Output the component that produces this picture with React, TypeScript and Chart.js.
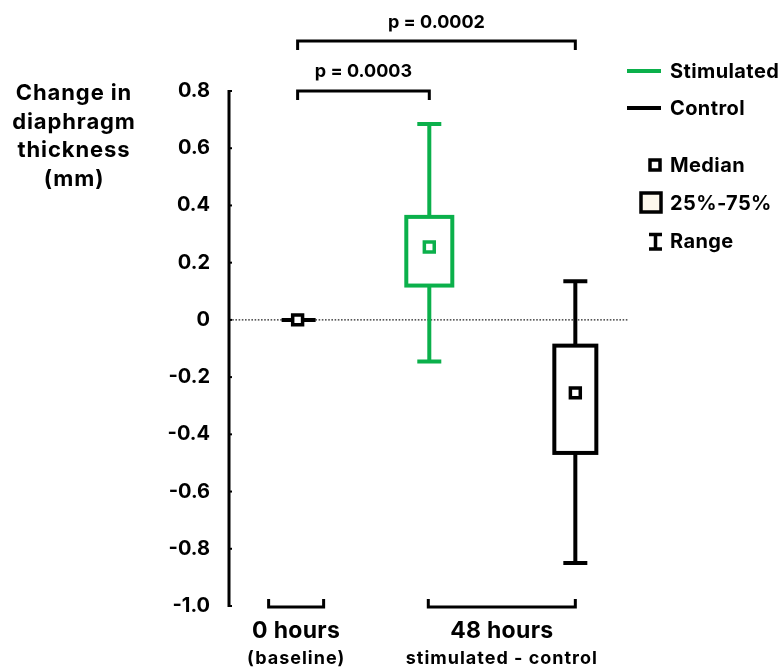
import React, { useEffect, useRef } from "react";
import { Chart, registerables } from "chart.js";

Chart.register(...registerables);

// ---- data ----
const GROUPS = ["0 hours (baseline)", "Stimulated", "Control"];
const RANGE_MIN = [0, -0.145, -0.85];
const Q1 = [0, 0.12, -0.465];
const MEDIAN = [0, 0.255, -0.255];
const Q3 = [0, 0.36, -0.09];
const RANGE_MAX = [0, 0.685, 0.135];
const Y_TICK_VALUES = [0.8, 0.6, 0.4, 0.2, 0, -0.2, -0.4, -0.6, -0.8, -1.0];
const Y_TICK_LABELS = ["0.8", "0.6", "0.4", "0.2", "0", "-0.2", "-0.4", "-0.6", "-0.8", "-1.0"];
const P_LABELS = ["p = 0.0003", "p = 0.0002"];
const X_MAIN_LABELS = ["0 hours", "48 hours"];
const X_SUB_LABELS = ["(baseline)", "stimulated - control"];
const LEGEND_SERIES = ["Stimulated", "Control"];
const LEGEND_MARKS = ["Median", "25%-75%", "Range"];
const Y_TITLE = ["Change in", "diaphragm", "thickness", "(mm)"];

// ---- layout / style ----
const X_POS = [0.172, 0.502, 0.868];
const GREEN = "#0BB04B";
const BLACK = "#000000";
const COLORS = [BLACK, GREEN, BLACK];
const FONT = "Inter, 'Liberation Sans', Arial, sans-serif";

function setSpacing(ctx: any, v: string) {
  try {
    ctx.letterSpacing = v;
  } catch (e) {}
}

const boxPlugin = {
  id: "boxPlugin",
  beforeDatasetsDraw(chart: any) {
    const { ctx, chartArea, scales } = chart;
    const x = scales.x;
    const y = scales.y;
    ctx.save();
    // zero dotted line
    ctx.strokeStyle = "#222";
    ctx.lineWidth = 1.3;
    ctx.setLineDash([1.6, 1.6]);
    ctx.beginPath();
    ctx.moveTo(chartArea.left, y.getPixelForValue(0));
    ctx.lineTo(chartArea.right, y.getPixelForValue(0));
    ctx.stroke();
    ctx.setLineDash([]);

    // axis line
    ctx.strokeStyle = BLACK;
    ctx.lineWidth = 3;
    const top = y.getPixelForValue(Y_TICK_VALUES[0]);
    const bot = y.getPixelForValue(Y_TICK_VALUES[Y_TICK_VALUES.length - 1]);
    ctx.beginPath();
    ctx.moveTo(chartArea.left, top - 1);
    ctx.lineTo(chartArea.left, bot + 1);
    ctx.stroke();
    ctx.lineWidth = 2;
    Y_TICK_VALUES.forEach((v) => {
      const py = y.getPixelForValue(v);
      ctx.beginPath();
      ctx.moveTo(chartArea.left, py);
      ctx.lineTo(chartArea.left + 3, py);
      ctx.stroke();
    });

    // boxes
    ctx.lineWidth = 4;
    GROUPS.forEach((g, i) => {
      const cx = x.getPixelForValue(X_POS[i]);
      ctx.strokeStyle = COLORS[i];
      if (RANGE_MAX[i] === RANGE_MIN[i]) {
        const py = y.getPixelForValue(MEDIAN[i]);
        ctx.beginPath();
        ctx.moveTo(cx - 16, py);
        ctx.lineTo(cx + 18, py);
        ctx.stroke();
        return;
      }
      const yMin = y.getPixelForValue(RANGE_MIN[i]);
      const yMax = y.getPixelForValue(RANGE_MAX[i]);
      const yQ1 = y.getPixelForValue(Q1[i]);
      const yQ3 = y.getPixelForValue(Q3[i]);
      ctx.beginPath();
      ctx.moveTo(cx, yMax);
      ctx.lineTo(cx, yQ3);
      ctx.moveTo(cx, yQ1);
      ctx.lineTo(cx, yMin);
      ctx.moveTo(cx - 12, yMax);
      ctx.lineTo(cx + 12, yMax);
      ctx.moveTo(cx - 12, yMin);
      ctx.lineTo(cx + 12, yMin);
      ctx.stroke();
      const w = i === 1 ? 46 : 42;
      ctx.fillStyle = "#fff";
      ctx.fillRect(cx - w / 2, yQ3, w, yQ1 - yQ3);
      ctx.strokeRect(cx - w / 2, yQ3, w, yQ1 - yQ3);
    });
    ctx.restore();
  },
  afterDraw(chart: any) {
    const { ctx, chartArea, scales } = chart;
    const x = scales.x;
    ctx.save();
    ctx.fillStyle = BLACK;
    ctx.strokeStyle = BLACK;
    ctx.textAlign = "center";
    ctx.textBaseline = "alphabetic";

    // y title
    ctx.font = `bold 22px ${FONT}`;
    setSpacing(ctx, "0.9px");
    const titleY = [100, 129, 157, 186];
    Y_TITLE.forEach((t, i) => ctx.fillText(t, 74, titleY[i]));

    // significance brackets
    const x0 = x.getPixelForValue(X_POS[0]);
    const x1 = x.getPixelForValue(X_POS[1]);
    const x2 = x.getPixelForValue(X_POS[2]);
    ctx.lineWidth = 3;
    const brackets = [
      { a: x0, b: x1, y: 91, label: P_LABELS[0], ty: 77 },
      { a: x0, b: x2, y: 41, label: P_LABELS[1], ty: 28 },
    ];
    ctx.font = `bold 18px ${FONT}`;
    setSpacing(ctx, "0px");
    brackets.forEach((br) => {
      ctx.beginPath();
      ctx.moveTo(br.a, br.y + 9);
      ctx.lineTo(br.a, br.y);
      ctx.lineTo(br.b, br.y);
      ctx.lineTo(br.b, br.y + 9);
      ctx.stroke();
      ctx.fillText(br.label, (br.a + br.b) / 2, br.ty);
    });

    // x group brackets
    const by = chartArea.bottom + 1;
    const groups = [
      { a: x0 - 29, b: x0 + 26 },
      { a: x1 - 1, b: x2 },
    ];
    groups.forEach((g, i) => {
      ctx.beginPath();
      ctx.moveTo(g.a, by - 8);
      ctx.lineTo(g.a, by);
      ctx.lineTo(g.b, by);
      ctx.lineTo(g.b, by - 8);
      ctx.stroke();
      const c = (g.a + g.b) / 2;
      ctx.font = `bold 23px ${FONT}`;
      setSpacing(ctx, "0.3px");
      ctx.fillText(X_MAIN_LABELS[i], c, 638);
      ctx.font = `bold 18px ${FONT}`;
      setSpacing(ctx, "1px");
      ctx.fillText(X_SUB_LABELS[i], c, 664);
    });

    // legend
    ctx.textAlign = "left";
    ctx.textBaseline = "middle";
    ctx.font = `bold 20px ${FONT}`;
    setSpacing(ctx, "0.4px");
    ctx.lineWidth = 4;
    [GREEN, BLACK].forEach((col, i) => {
      const ly = [71, 108][i];
      ctx.strokeStyle = col;
      ctx.beginPath();
      ctx.moveTo(627, ly);
      ctx.lineTo(661, ly);
      ctx.stroke();
      ctx.fillText(LEGEND_SERIES[i], 670, ly + 1);
    });
    ctx.strokeStyle = BLACK;
    // median symbol
    ctx.lineWidth = 3.5;
    ctx.fillStyle = "#fff";
    ctx.fillRect(650, 160, 10, 10);
    ctx.strokeRect(650, 160, 10, 10);
    // 25-75 symbol
    ctx.fillStyle = "#FDF8EC";
    ctx.fillRect(641, 193, 20, 19);
    ctx.strokeRect(641, 193, 20, 19);
    // range symbol
    ctx.lineWidth = 3.5;
    ctx.beginPath();
    ctx.moveTo(649, 234.5);
    ctx.lineTo(662, 234.5);
    ctx.moveTo(655.5, 234.5);
    ctx.lineTo(655.5, 249);
    ctx.moveTo(649, 249);
    ctx.lineTo(662, 249);
    ctx.stroke();
    ctx.fillStyle = BLACK;
    const markY = [166, 204, 242];
    LEGEND_MARKS.forEach((t, i) => ctx.fillText(t, 670, markY[i]));
    setSpacing(ctx, "0px");
    ctx.restore();
  },
};

export default function App() {
  const ref = useRef<HTMLCanvasElement>(null);
  useEffect(() => {
    if (!ref.current) return;
    const chart = new Chart(ref.current, {
      type: "scatter",
      data: {
        datasets: [
          {
            label: "Median",
            data: GROUPS.map((g, i) => ({ x: X_POS[i], y: MEDIAN[i] })),
            pointStyle: "rect",
            pointRadius: 7,
            pointHoverRadius: 7,
            pointBorderWidth: 3.5,
            pointBackgroundColor: "#fff",
            pointBorderColor: COLORS,
          },
        ],
      },
      options: {
        animation: false,
        responsive: false,
        events: [],
        layout: { padding: { top: 91, bottom: 65, left: 0, right: 154 } },
        plugins: { legend: { display: false }, tooltip: { enabled: false } },
        scales: {
          x: { type: "linear", min: 0, max: 1, display: false },
          y: {
            type: "linear",
            min: -1,
            max: 0.8,
            afterFit: (s: any) => {
              s.width = 229;
            },
            afterBuildTicks: (s: any) => {
              s.ticks = Y_TICK_VALUES.map((v) => ({ value: v }));
            },
            ticks: {
              padding: 19,
              color: BLACK,
              font: { family: FONT, size: 20, weight: "bold" },
              callback: (v: any) => {
                const idx = Y_TICK_VALUES.findIndex((t) => Math.abs(t - Number(v)) < 1e-6);
                return idx >= 0 ? Y_TICK_LABELS[idx] : "";
              },
            },
            grid: { display: false, drawTicks: false },
            border: { display: false },
          },
        },
      },
      plugins: [boxPlugin],
    } as any);
    return () => chart.destroy();
  }, []);
  return (
    <div style={{ position: "fixed", left: 0, top: 0, width: 782, height: 671, background: "#fff" }}>
      <canvas ref={ref} width={782} height={671} style={{ display: "block" }} />
    </div>
  );
}
